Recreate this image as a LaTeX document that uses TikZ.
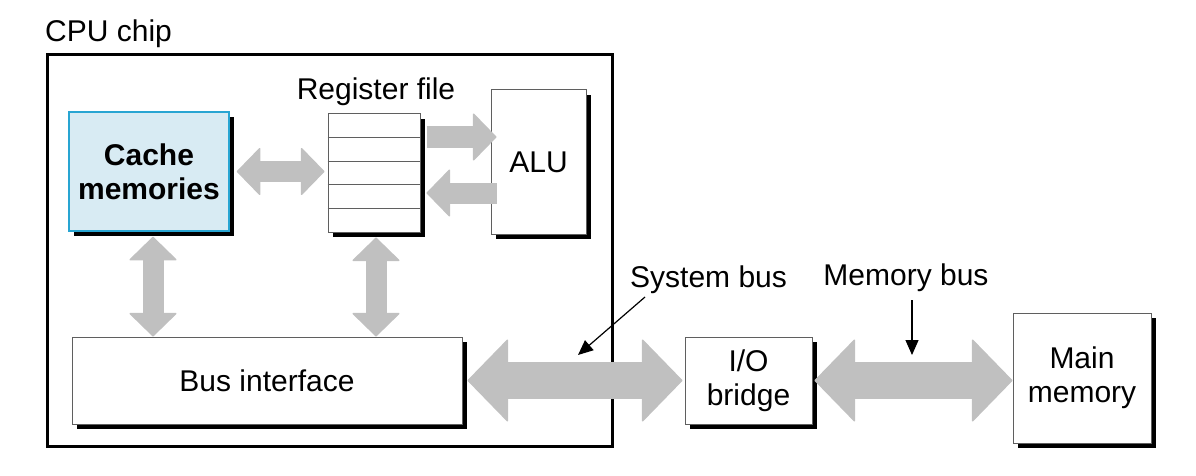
\documentclass[tikz,border=0pt]{standalone}
\usepackage{fontspec}
\setmainfont{Liberation Sans}
\usetikzlibrary{arrows.meta,calc,positioning,shadows}
\definecolor{busgray}{RGB}{192,192,192}
\definecolor{cachefill}{RGB}{216,235,243}
\definecolor{cacheline}{RGB}{40,165,210}
\definecolor{boxline}{RGB}{95,95,95}
\tikzset{%
	block/.style      = {draw=boxline, line width=1pt, fill=white, align=center, inner sep=0pt, drop shadow={shadow xshift=5pt, shadow yshift=-5pt, fill=black, opacity=1}},
	cacheblock/.style = {block, draw=cacheline, fill=cachefill, line width=1.5pt, font=\fontsize{30}{34}\selectfont\bfseries},
	lbl/.style        = {inner sep=0pt},
	fattip/.tip       = {Triangle[length=24pt, width=49pt, line width=1.5pt, round]},
	bustip/.tip       = {Triangle[length=41pt, width=84pt, line width=1.5pt, round]},
	fatarrow/.style   = {draw=busgray, line width=21pt},
	busarrow/.style   = {draw=busgray, line width=37pt},
	pointer/.style    = {line width=1.2pt, -{Triangle[length=15pt, width=13pt]}},
}
\begin{document}
\begin{tikzpicture}[x=1pt, y=-1pt, font=\fontsize{30}{34}\selectfont]
	\useasboundingbox (0,0) rectangle (1196,476);
	% CPU chip
	\node[lbl, anchor=base west] (cputitle) at (45,42) {CPU chip};
	\node[draw, line width=3pt, minimum width=565, minimum height=391] (cpu) at (329.5,250.5) {};
	\node[cacheblock, minimum width=160, minimum height=119] (cache) at (149,171.5) {Cache\\memories};
	\node[block, minimum width=92, minimum height=118] (reg) at (374,173) {};
	\foreach \i in {1,...,4}
		\draw[draw=boxline, line width=1pt] ($(reg.north west)!\i/5!(reg.south west)$) -- ($(reg.north east)!\i/5!(reg.south east)$);
	\node[lbl, anchor=base] (regtitle) at (376,100) {Register file};
	\node[block, minimum width=95, minimum height=144] (alu) at (538.5,162) {ALU};
	\node[block, minimum width=390, minimum height=87] (bus) at (267,380.5) {Bus interface};
	% outside the chip
	\node[block, minimum width=127, minimum height=87] (bridge) at (748.5,380.5) {I/O\\bridge};
	\node[block, minimum width=138, minimum height=130] (mem) at (1082,378) {Main\\memory};
	% fat arrows
	\draw[fatarrow, fattip-fattip] ([xshift=7pt]cache.east) -- ([xshift=-3pt]cache.east -| reg.west);
	\draw[fatarrow, -fattip] ([shift={(6,-36)}]reg.east) -- ([shift={(6,-36)}]reg.east -| alu.west);
	\draw[fatarrow, fattip-] ([shift={(6,20)}]reg.east) -- ([shift={(6,20)}]reg.east -| alu.west);
	\draw[fatarrow, fattip-fattip] ([shift={(4,5)}]cache.south) -- ([xshift=4pt]cache.south |- bus.north);
	\draw[fatarrow, fattip-fattip] ([shift={(2,5)}]reg.south) -- ([xshift=2pt]reg.south |- bus.north);
	\draw[busarrow, bustip-bustip] ([xshift=5pt]bus.east) -- ([xshift=-2pt]bus.east -| bridge.west);
	\draw[busarrow, bustip-bustip] ([xshift=2pt]bridge.east) -- (bridge.east -| mem.west);
	% bus labels
	\node[lbl, anchor=base west] (sysbus) at (630,287) {System bus};
	\coordinate (sysbusend) at (578,355);
	\draw[pointer] ([shift={(15,10)}]sysbus.base west) -- (sysbusend);
	\node[lbl, anchor=base] (membus) at (906,285) {Memory bus};
	\coordinate (membusend) at (912,355);
	\draw[pointer] ([shift={(6,15)}]membus.base) -- (membusend);
\end{tikzpicture}
\end{document}
